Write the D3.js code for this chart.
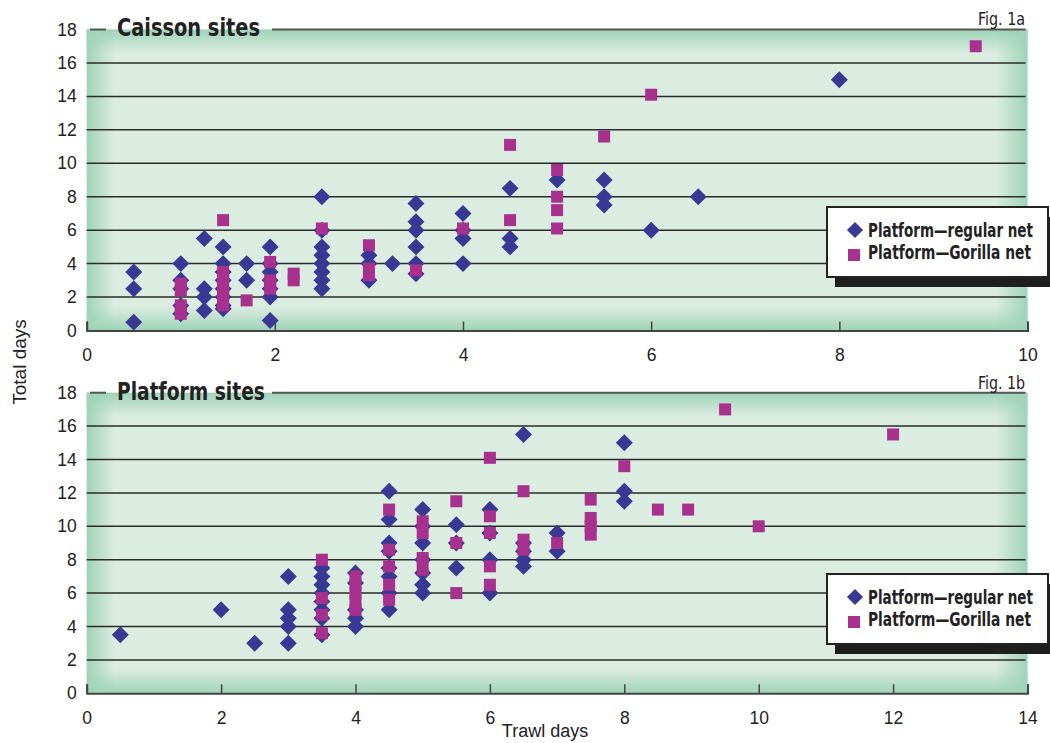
<!DOCTYPE html>
<html>
<head>
<meta charset="utf-8">
<script src="https://cdn.jsdelivr.net/npm/d3@7"></script>
<style>
  body { margin: 0; background: #fff; }
  svg { display: block; }
</style>
</head>
<body>
<div id="chart"></div>
<script>
// Data: [trawl days, total days]
const caissonRegular = [
  [0.5, 3.5], [0.5, 2.5], [0.5, 0.5],
  [1, 4], [1, 3], [1, 2.5], [1, 1.5], [1, 1],
  [1.25, 5.5], [1.25, 2.5], [1.25, 2], [1.25, 1.2],
  [1.45, 5], [1.45, 4], [1.45, 3.5], [1.45, 3], [1.45, 2.5], [1.45, 2], [1.45, 1.5], [1.45, 1.3],
  [1.7, 4], [1.7, 3],
  [1.95, 5], [1.95, 4], [1.95, 3.5], [1.95, 3], [1.95, 2.5], [1.95, 2], [1.95, 0.6],
  [2.5, 8], [2.5, 6], [2.5, 5], [2.5, 4.5], [2.5, 4], [2.5, 3.5], [2.5, 3], [2.5, 2.5],
  [3, 4.5], [3, 4], [3, 3],
  [3.25, 4],
  [3.5, 7.6], [3.5, 6.5], [3.5, 6], [3.5, 5], [3.5, 4], [3.5, 3.4],
  [4, 7], [4, 6], [4, 5.5], [4, 4],
  [4.5, 8.5], [4.5, 5.5], [4.5, 5],
  [5, 9],
  [5.5, 9], [5.5, 8], [5.5, 7.5],
  [6, 6], [6.5, 8], [8, 15]
];
const caissonGorilla = [
  [1, 2.8], [1, 2.4], [1, 1.5], [1, 1],
  [1.45, 6.6], [1.45, 3.5], [1.45, 3], [1.45, 2.5], [1.45, 2], [1.45, 1.5],
  [1.7, 1.8],
  [1.95, 4.1], [1.95, 3], [1.95, 2.5],
  [2.2, 3.4], [2.2, 3],
  [2.5, 6.1],
  [3, 5.1], [3, 3.7], [3, 3.3],
  [3.5, 3.6],
  [4, 6.1],
  [4.5, 11.1], [4.5, 6.6],
  [5, 9.6], [5, 8], [5, 7.2], [5, 6.1],
  [5.5, 11.6], [6, 14.1], [9.45, 17]
];
const platformRegular = [
  [0.5, 3.5], [2, 5], [2.5, 3],
  [3, 7], [3, 5], [3, 4.5], [3, 4], [3, 3],
  [3.5, 7.5], [3.5, 7], [3.5, 6.5], [3.5, 6], [3.5, 5.5], [3.5, 5], [3.5, 4.5], [3.5, 3.5],
  [4, 7.2], [4, 6.6], [4, 5], [4, 4.5], [4, 4],
  [4.5, 12.1], [4.5, 10.4], [4.5, 9], [4.5, 8.5], [4.5, 7.5], [4.5, 7], [4.5, 6], [4.5, 5],
  [5, 11], [5, 10], [5, 9], [5, 8], [5, 7.2], [5, 6.5], [5, 6],
  [5.5, 10.1], [5.5, 9], [5.5, 7.5],
  [6, 11], [6, 9.6], [6, 8], [6, 6],
  [6.5, 15.5], [6.5, 9], [6.5, 8.5], [6.5, 8], [6.5, 7.6],
  [7, 9.6], [7, 8.5],
  [8, 15], [8, 12.1], [8, 11.5]
];
const platformGorilla = [
  [3.5, 8], [3.5, 5.7], [3.5, 4.7], [3.5, 3.6],
  [4, 7], [4, 6.5], [4, 6], [4, 5.5], [4, 5],
  [4.5, 11], [4.5, 8.6], [4.5, 7.6], [4.5, 6.5], [4.5, 5.6],
  [5, 10.3], [5, 9.6], [5, 8.1], [5, 7.4],
  [5.5, 11.5], [5.5, 9], [5.5, 6],
  [6, 14.1], [6, 10.6], [6, 9.6], [6, 7.6], [6, 6.5],
  [6.5, 12.1], [6.5, 9.2], [6.5, 8.6],
  [7, 9],
  [7.5, 11.6], [7.5, 10.5], [7.5, 10], [7.5, 9.5],
  [8, 13.6], [8.5, 11], [8.95, 11], [10, 10], [9.5, 17], [12, 15.5]
];
const yTicks = [0, 2, 4, 6, 8, 10, 12, 14, 16, 18];
const xTicksTop = [0, 2, 4, 6, 8, 10];
const xTicksBottom = [0, 2, 4, 6, 8, 10, 12, 14];
const legendLabels = ["Platform\u2014regular net", "Platform\u2014Gorilla net"];

// Layout
const w = 1050, h = 743;
const left = 86.7, right = 1027.5;
const narrow = "'Liberation Sans Narrow', 'DejaVu Sans Condensed', 'Liberation Sans', sans-serif";
const plain = "'Liberation Sans', Arial, sans-serif";
const blue = "#3a3895", magenta = "#a8318f";

const svg = d3.select("#chart").append("svg")
  .attr("width", w).attr("height", h);

// Edge gradients for the plot background
const defs = svg.append("defs");
[["gl", 0, 0, 1, 0], ["gt", 0, 0, 0, 1], ["gr", 1, 0, 0, 0], ["gb", 0, 1, 0, 0]].forEach(([id, x1, y1, x2, y2]) => {
  const g = defs.append("linearGradient").attr("id", id)
    .attr("x1", x1).attr("y1", y1).attr("x2", x2).attr("y2", y2);
  g.append("stop").attr("offset", 0).attr("stop-color", "#9fd3b8").attr("stop-opacity", 1);
  g.append("stop").attr("offset", 1).attr("stop-color", "#9fd3b8").attr("stop-opacity", 0);
});

function panel(opts) {
  const x = d3.scaleLinear().domain([0, opts.xMax]).range([left, right]);
  const y = d3.scaleLinear().domain([0, 18]).range([opts.y0, opts.y18]);
  const g = svg.append("g");
  const top = y(18), bottom = y(0);

  // background
  g.append("rect").attr("x", left).attr("y", top).attr("width", right - left).attr("height", bottom - top).attr("fill", "#dbece0");
  g.append("rect").attr("x", left).attr("y", top).attr("width", 28).attr("height", bottom - top).attr("fill", "url(#gl)");
  g.append("rect").attr("x", left).attr("y", top).attr("width", right - left).attr("height", 24).attr("fill", "url(#gt)");
  g.append("rect").attr("x", right - 32).attr("y", top).attr("width", 32).attr("height", bottom - top).attr("fill", "url(#gr)");
  g.append("rect").attr("x", left).attr("y", bottom - 24).attr("width", right - left).attr("height", 24).attr("fill", "url(#gb)");

  // gridlines
  g.selectAll(".grid").data(yTicks.filter(d => d > 0 && d < 18)).enter()
    .append("line")
    .attr("x1", left).attr("x2", right - 2)
    .attr("y1", d => y(d)).attr("y2", d => y(d))
    .attr("stroke", "#2b2b2b").attr("stroke-width", 1.5);

  // top frame line, broken by the title
  g.append("line").attr("x1", 90).attr("x2", 106).attr("y1", top).attr("y2", top)
    .attr("stroke", "#555").attr("stroke-width", 2);
  g.append("line").attr("x1", 272).attr("x2", right - 2).attr("y1", top).attr("y2", top)
    .attr("stroke", "#555").attr("stroke-width", 2);

  // x axis
  const xAxis = d3.axisBottom(x).tickValues(opts.xTicks).tickSize(-9).tickPadding(18)
    .tickFormat(d3.format("d"));
  const ax = g.append("g").attr("transform", `translate(0,${bottom})`).call(xAxis);
  ax.select(".domain").attr("stroke", "#444").attr("stroke-width", 2);
  ax.selectAll(".tick line").attr("stroke", "#444").attr("stroke-width", 1.5);
  ax.selectAll(".tick text").attr("font-family", plain).attr("font-size", 17.5).attr("fill", "#222");

  // y axis labels
  const yAxis = d3.axisLeft(y).tickValues(yTicks).tickSize(0).tickPadding(10);
  const ay = g.append("g").attr("transform", `translate(${left},0)`).call(yAxis);
  ay.select(".domain").remove();
  ay.selectAll(".tick text").attr("font-family", plain).attr("font-size", 17.5).attr("fill", "#222");

  // points
  const sym = d3.symbol().type(d3.symbolSquare).size(144);
  g.selectAll(".reg").data(opts.regular).enter().append("path")
    .attr("d", sym)
    .attr("transform", d => `translate(${x(d[0])},${y(d[1])}) rotate(45)`)
    .attr("fill", blue);
  g.selectAll(".gor").data(opts.gorilla).enter().append("path")
    .attr("d", sym)
    .attr("transform", d => `translate(${x(d[0])},${y(d[1])})`)
    .attr("fill", magenta);

  // title
  g.append("text").attr("x", 117).attr("y", opts.titleBase)
    .attr("font-family", narrow).attr("font-weight", "bold").attr("font-size", 25)
    .attr("textLength", opts.titleLen).attr("lengthAdjust", "spacingAndGlyphs")
    .attr("fill", "#222").text(opts.title);

  // figure label
  g.append("text").attr("x", 1025).attr("y", opts.figBase).attr("text-anchor", "end")
    .attr("font-family", narrow).attr("font-size", 17)
    .attr("textLength", 47).attr("lengthAdjust", "spacingAndGlyphs")
    .attr("fill", "#222").text(opts.fig);

  // legend
  const ly = opts.legendY;
  g.append("rect").attr("x", 835).attr("y", ly + 10).attr("width", 215).attr("height", 70).attr("fill", "#1e1e1e");
  g.append("rect").attr("x", 827).attr("y", ly).attr("width", 221).attr("height", 70)
    .attr("fill", "#fff").attr("stroke", "#222").attr("stroke-width", 2);
  g.append("path").attr("d", sym).attr("transform", `translate(855,${ly + 23}) rotate(45) scale(0.95)`).attr("fill", blue);
  g.append("path").attr("d", sym).attr("transform", `translate(854,${ly + 48})`).attr("fill", magenta);
  g.selectAll(".leg").data(legendLabels).enter().append("text")
    .attr("transform", (d, i) => `translate(868,${ly + 30 + i * 22}) scale(1,1.18)`)
    .attr("font-family", narrow).attr("font-weight", "bold").attr("font-size", 16)
    .attr("textLength", (d, i) => i === 0 ? 165 : 163).attr("lengthAdjust", "spacingAndGlyphs")
    .attr("fill", "#222").text(d => d);
}

panel({
  xMax: 10, xTicks: xTicksTop, y0: 330.5, y18: 29.5,
  regular: caissonRegular, gorilla: caissonGorilla,
  title: "Caisson sites", titleLen: 143, titleBase: 36,
  fig: "Fig. 1a", figBase: 25, legendY: 207
});
panel({
  xMax: 14, xTicks: xTicksBottom, y0: 693.3, y18: 392.7,
  regular: platformRegular, gorilla: platformGorilla,
  title: "Platform sites", titleLen: 148, titleBase: 400,
  fig: "Fig. 1b", figBase: 389, legendY: 574
});

// Axis titles
svg.append("text")
  .attr("transform", "translate(26,362) rotate(-90)")
  .attr("text-anchor", "middle")
  .attr("font-family", plain).attr("font-size", 19).attr("fill", "#222")
  .text("Total days");
svg.append("text")
  .attr("x", 545).attr("y", 737).attr("text-anchor", "middle")
  .attr("font-family", plain).attr("font-size", 18).attr("fill", "#222")
  .text("Trawl days");
</script>
</body>
</html>
